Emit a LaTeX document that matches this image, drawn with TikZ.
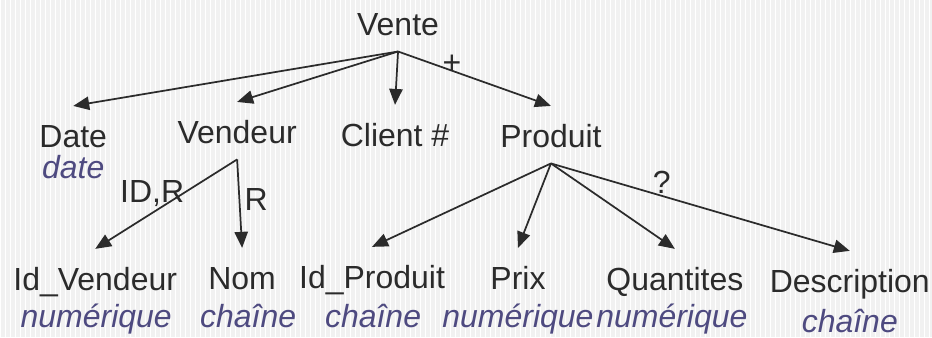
\documentclass[tikz,border=0pt]{standalone}
\usepackage{fontspec}
\setmainfont{Liberation Sans}
\usetikzlibrary{arrows.meta}

\definecolor{inkgray}{HTML}{2B2B2B}
\definecolor{typepurple}{HTML}{4E4A80}
\definecolor{paper}{HTML}{F1F1F1}

\begin{document}
\begin{tikzpicture}[
        x=0.75pt, y=-0.75pt,
        >={Triangle[length=12pt,width=10pt]},
        every node/.style={font=\fontsize{24}{29}\selectfont, text=inkgray},
        field/.style={anchor=base, inner sep=0pt, text height=30.75pt, text depth=12pt},
        type/.style={anchor=base, inner sep=0pt, font=\fontsize{24}{29}\selectfont\itshape, text=typepurple},
        tag/.style={anchor=base, inner sep=0pt},
        link/.style={->, draw=inkgray, line width=1.3pt}
      ]

        % Background ----------------------------------------------
        \fill[paper] (0,0) rectangle (932,337);
        \draw[white, line width=0.4pt, step=5] (0,0) grid (932,337);
        \useasboundingbox (0,0) rectangle (932,337);

        % Root ----------------------------------------------------
        \node[field] (vente)   at (398,35)  {Vente};

        % First level
        \node[field] (date)    at (73,147)  {Date};
        \node[field] (vendeur) at (237,143) {Vendeur};
        \node[field] (client)  at (395,146) {Client \#};
        \node[field] (produit) at (551,147) {Produit};

        \node[type] (datet) at (73,178) {date};

        % Vendeur's children
        \node[field] (idv) at (95,290)  {Id\_Vendeur};
        \node[field] (nom) at (242,289) {Nom};

        \node[type] (idvt) at (96,327)  {numérique};
        \node[type] (nomt) at (248,327) {chaîne};

        % Produit's children
        \node[field] (idp)  at (372,288) {Id\_Produit};
        \node[field] (prix) at (518,289) {Prix};
        \node[field] (qte)  at (675,290) {Quantites};
        \node[field] (desc) at (850,292) {Description};

        \node[type] (idpt)  at (373,327) {chaîne};
        \node[type] (prixt) at (518,327) {numérique};
        \node[type] (qtet)  at (672,327) {numérique};
        \node[type] (desct) at (850,332) {chaîne};

        % Connectors ----------------------------------------------
        \draw[link] (vente.south) -- (date.north);
        \draw[link] (vente.south) -- (vendeur.north);
        \draw[link] (vente.south) -- (client.north);
        \draw[link] (vente.south) -- (produit.north);

        \draw[link] (vendeur.south) -- (idv.north);
        \draw[link] (vendeur.south) -- (nom.north);

        \draw[link] (produit.south) -- (idp.north);
        \draw[link] (produit.south) -- (prix.north);
        \draw[link] (produit.south) -- (qte.north);
        \draw[link] (produit.south) -- (desc.north);

        % Cardinality labels
        \node[tag] (plus)  at (452,73)  {+};
        \node[tag] (idr)   at (152,202) {ID,R};
        \node[tag] (r)     at (256,210) {R};
        \node[tag] (quest) at (662,193) {?};

      \end{tikzpicture}
\end{document}
